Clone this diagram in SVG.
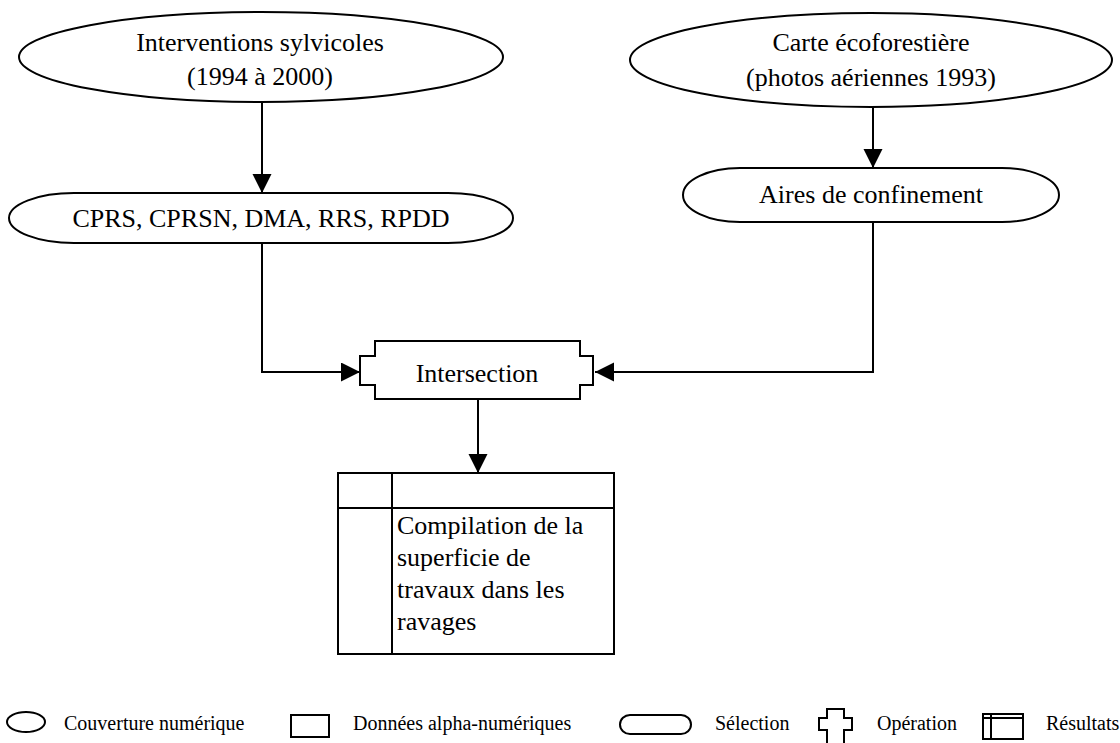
<svg xmlns="http://www.w3.org/2000/svg" width="1120" height="743" viewBox="0 0 1120 743">
  <style>
    .shape { fill: #fff; stroke: #000; stroke-width: 2; }
    .line { fill: none; stroke: #000; stroke-width: 2; }
    .lbl { font-family: "Liberation Serif", "Times New Roman", serif; font-size: 26px; fill: #000; }
    .mid { text-anchor: middle; }
    .leg { font-family: "Liberation Serif", "Times New Roman", serif; font-size: 20px; fill: #000; }
  </style>
  <defs>
    <marker id="arrow" markerWidth="20" markerHeight="20" refX="19" refY="9.5" orient="auto" markerUnits="userSpaceOnUse">
      <path d="M0,0 L19,9.5 L0,19 Z" fill="#000"/>
    </marker>
  </defs>
  <rect width="1120" height="743" fill="#fff"/>

  <!-- connectors -->
  <g id="connectors">
    <path class="line" d="M262,102 V193" marker-end="url(#arrow)"/>
    <path class="line" d="M873,107 V168" marker-end="url(#arrow)"/>
    <path class="line" d="M262,243 V372 H360" marker-end="url(#arrow)"/>
    <path class="line" d="M873,222 V372 H595" marker-end="url(#arrow)"/>
    <path class="line" d="M478,399 V473" marker-end="url(#arrow)"/>
  </g>

  <!-- input coverages -->
  <g id="interventions">
    <ellipse class="shape" cx="261" cy="57" rx="242" ry="45"/>
    <text class="lbl mid" x="260" y="51">Interventions sylvicoles</text>
    <text class="lbl mid" x="260" y="85">(1994 à 2000)</text>
  </g>
  <g id="carte">
    <ellipse class="shape" cx="871" cy="60" rx="241" ry="47"/>
    <text class="lbl mid" x="871" y="51">Carte écoforestière</text>
    <text class="lbl mid" x="871" y="86">(photos aériennes 1993)</text>
  </g>

  <!-- selections -->
  <g id="selection-travaux">
    <rect class="shape" x="9" y="193" width="504" height="50" rx="65" ry="25"/>
    <text class="lbl mid" x="261" y="227">CPRS, CPRSN, DMA, RRS, RPDD</text>
  </g>
  <g id="selection-aires">
    <rect class="shape" x="683" y="168" width="376" height="54" rx="57" ry="27"/>
    <text class="lbl mid" x="871" y="203">Aires de confinement</text>
  </g>

  <!-- operation -->
  <g id="intersection">
    <path class="shape" d="M375,341 H580 V356 H593 V385 H580 V399 H375 V385 H360 V356 H375 Z"/>
    <text class="lbl mid" x="477" y="382">Intersection</text>
  </g>

  <!-- result -->
  <g id="resultat">
    <rect class="shape" x="338" y="473" width="276" height="181"/>
    <path class="line" d="M392,473 V654 M338,508 H614"/>
    <text class="lbl" x="397" y="534">Compilation de la</text>
    <text class="lbl" x="397" y="566">superficie de</text>
    <text class="lbl" x="397" y="598">travaux dans les</text>
    <text class="lbl" x="397" y="630">ravages</text>
  </g>

  <!-- legend -->
  <g id="legende">
    <ellipse class="shape" cx="26" cy="722" rx="19" ry="10"/>
    <text class="leg" x="64" y="730">Couverture numérique</text>
    <rect class="shape" x="291" y="715" width="38" height="22"/>
    <text class="leg" x="353" y="730">Données alpha-numériques</text>
    <rect class="shape" x="620" y="715" width="71" height="19" rx="10" ry="9.5"/>
    <text class="leg" x="715" y="730">Sélection</text>
    <path class="line" d="M827,750 V730 H819 V718 H827 V709 H844 V718 H852 V730 H844 V750"/>
    <text class="leg" x="877" y="730">Opération</text>
    <rect class="shape" x="983" y="714" width="40" height="25"/>
    <path class="line" d="M991,714 V739 M983,718 H1023"/>
    <text class="leg" x="1046" y="730">Résultats</text>
  </g>
</svg>
